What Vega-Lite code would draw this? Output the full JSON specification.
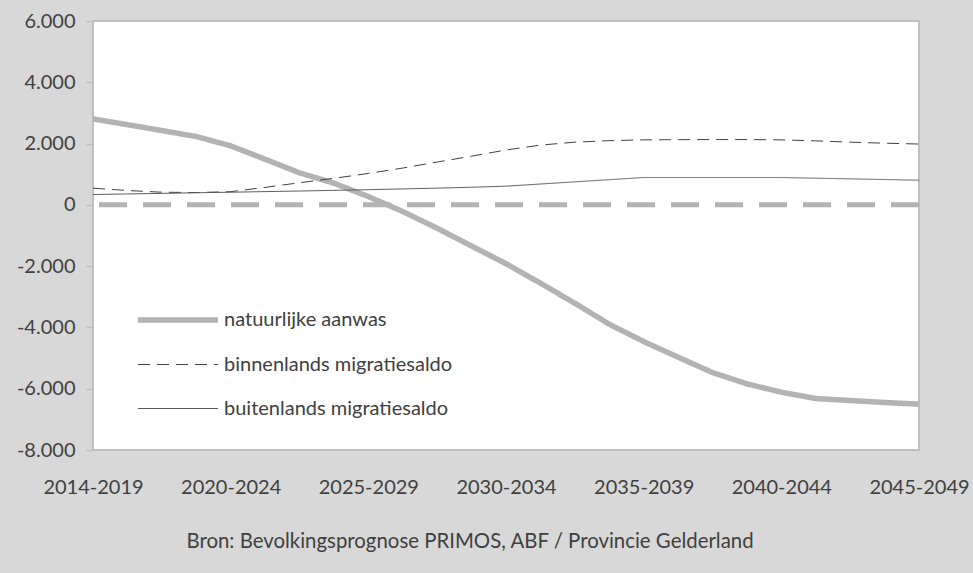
{
  "$schema": "https://vega.github.io/schema/vega-lite/v6.json",
  "width": 826,
  "height": 429,
  "autosize": {"type": "none"},
  "padding": {"left": 93, "top": 21, "right": 54, "bottom": 123},
  "background": "#d8d8d8",
  "config": {
    "font": "Lato",
    "view": {"stroke": "#bfbfbf", "strokeWidth": 2, "fill": "white"},
    "axis": {"labelFont": "Lato", "labelFontSize": 20, "labelColor": "#404040", "grid": false, "domain": false, "labelFlush": false, "labelOverlap": false}
  },
  "title": {
    "text": "Bron: Bevolkingsprognose PRIMOS, ABF / Provincie Gelderland",
    "orient": "bottom", "anchor": "middle", "frame": "group", "dx": -36, "offset": 35,
    "fontSize": 20.4, "font": "Lato", "fontWeight": "normal", "color": "#404040"
  },
  "layer": [
    {
      "data": {"values": [{"nul": 0}]},
      "mark": {"type": "rule", "color": "#b3b3b3", "strokeWidth": 5, "strokeDash": [28, 16]},
      "encoding": {"y": {"field": "nul", "type": "quantitative"}}
    },
    {
      "data": {"values": [
        {"i": 0, "serie": "natuurlijke aanwas", "v": 2806},
        {"i": 1, "serie": "natuurlijke aanwas", "v": 2617},
        {"i": 2, "serie": "natuurlijke aanwas", "v": 2425},
        {"i": 3, "serie": "natuurlijke aanwas", "v": 2230},
        {"i": 4, "serie": "natuurlijke aanwas", "v": 1925},
        {"i": 5, "serie": "natuurlijke aanwas", "v": 1490},
        {"i": 6, "serie": "natuurlijke aanwas", "v": 1044},
        {"i": 7, "serie": "natuurlijke aanwas", "v": 708},
        {"i": 8, "serie": "natuurlijke aanwas", "v": 271},
        {"i": 9, "serie": "natuurlijke aanwas", "v": -218},
        {"i": 10, "serie": "natuurlijke aanwas", "v": -762},
        {"i": 11, "serie": "natuurlijke aanwas", "v": -1344},
        {"i": 12, "serie": "natuurlijke aanwas", "v": -1920},
        {"i": 13, "serie": "natuurlijke aanwas", "v": -2556},
        {"i": 14, "serie": "natuurlijke aanwas", "v": -3209},
        {"i": 15, "serie": "natuurlijke aanwas", "v": -3895},
        {"i": 16, "serie": "natuurlijke aanwas", "v": -4460},
        {"i": 17, "serie": "natuurlijke aanwas", "v": -4972},
        {"i": 18, "serie": "natuurlijke aanwas", "v": -5472},
        {"i": 19, "serie": "natuurlijke aanwas", "v": -5841},
        {"i": 20, "serie": "natuurlijke aanwas", "v": -6113},
        {"i": 21, "serie": "natuurlijke aanwas", "v": -6320},
        {"i": 22, "serie": "natuurlijke aanwas", "v": -6385},
        {"i": 23, "serie": "natuurlijke aanwas", "v": -6450},
        {"i": 24, "serie": "natuurlijke aanwas", "v": -6504},
        {"i": 0, "serie": "binnenlands migratiesaldo", "v": 544},
        {"i": 1, "serie": "binnenlands migratiesaldo", "v": 468},
        {"i": 2, "serie": "binnenlands migratiesaldo", "v": 413},
        {"i": 3, "serie": "binnenlands migratiesaldo", "v": 402},
        {"i": 4, "serie": "binnenlands migratiesaldo", "v": 430},
        {"i": 5, "serie": "binnenlands migratiesaldo", "v": 570},
        {"i": 6, "serie": "binnenlands migratiesaldo", "v": 721},
        {"i": 7, "serie": "binnenlands migratiesaldo", "v": 866},
        {"i": 8, "serie": "binnenlands migratiesaldo", "v": 1025},
        {"i": 9, "serie": "binnenlands migratiesaldo", "v": 1201},
        {"i": 10, "serie": "binnenlands migratiesaldo", "v": 1398},
        {"i": 11, "serie": "binnenlands migratiesaldo", "v": 1589},
        {"i": 12, "serie": "binnenlands migratiesaldo", "v": 1790},
        {"i": 13, "serie": "binnenlands migratiesaldo", "v": 1950},
        {"i": 14, "serie": "binnenlands migratiesaldo", "v": 2046},
        {"i": 15, "serie": "binnenlands migratiesaldo", "v": 2095},
        {"i": 16, "serie": "binnenlands migratiesaldo", "v": 2121},
        {"i": 17, "serie": "binnenlands migratiesaldo", "v": 2128},
        {"i": 18, "serie": "binnenlands migratiesaldo", "v": 2131},
        {"i": 19, "serie": "binnenlands migratiesaldo", "v": 2131},
        {"i": 20, "serie": "binnenlands migratiesaldo", "v": 2121},
        {"i": 21, "serie": "binnenlands migratiesaldo", "v": 2089},
        {"i": 22, "serie": "binnenlands migratiesaldo", "v": 2046},
        {"i": 23, "serie": "binnenlands migratiesaldo", "v": 2013},
        {"i": 24, "serie": "binnenlands migratiesaldo", "v": 1984},
        {"i": 0, "serie": "buitenlands migratiesaldo", "v": 337},
        {"i": 1, "serie": "buitenlands migratiesaldo", "v": 356},
        {"i": 2, "serie": "buitenlands migratiesaldo", "v": 375},
        {"i": 3, "serie": "buitenlands migratiesaldo", "v": 394},
        {"i": 4, "serie": "buitenlands migratiesaldo", "v": 413},
        {"i": 5, "serie": "buitenlands migratiesaldo", "v": 432},
        {"i": 6, "serie": "buitenlands migratiesaldo", "v": 452},
        {"i": 7, "serie": "buitenlands migratiesaldo", "v": 473},
        {"i": 8, "serie": "buitenlands migratiesaldo", "v": 495},
        {"i": 9, "serie": "buitenlands migratiesaldo", "v": 520},
        {"i": 10, "serie": "buitenlands migratiesaldo", "v": 545},
        {"i": 11, "serie": "buitenlands migratiesaldo", "v": 575},
        {"i": 12, "serie": "buitenlands migratiesaldo", "v": 610},
        {"i": 13, "serie": "buitenlands migratiesaldo", "v": 680},
        {"i": 14, "serie": "buitenlands migratiesaldo", "v": 751},
        {"i": 15, "serie": "buitenlands migratiesaldo", "v": 821},
        {"i": 16, "serie": "buitenlands migratiesaldo", "v": 892},
        {"i": 17, "serie": "buitenlands migratiesaldo", "v": 892},
        {"i": 18, "serie": "buitenlands migratiesaldo", "v": 892},
        {"i": 19, "serie": "buitenlands migratiesaldo", "v": 892},
        {"i": 20, "serie": "buitenlands migratiesaldo", "v": 892},
        {"i": 21, "serie": "buitenlands migratiesaldo", "v": 870},
        {"i": 22, "serie": "buitenlands migratiesaldo", "v": 848},
        {"i": 23, "serie": "buitenlands migratiesaldo", "v": 826},
        {"i": 24, "serie": "buitenlands migratiesaldo", "v": 805}
      ]},
      "mark": {"type": "line"},
      "encoding": {
        "x": {
          "field": "i", "type": "quantitative",
          "scale": {"domain": [0, 24], "nice": false, "zero": false},
          "axis": {
            "values": [0, 4, 8, 12, 16, 20, 24],
            "labelExpr": "['2014-2019','2020-2024','2025-2029','2030-2034','2035-2039','2040-2044','2045-2049'][datum.value/4]",
            "title": null, "ticks": false, "tickSize": 0, "labelPadding": 27
          }
        },
        "y": {
          "field": "v", "type": "quantitative",
          "scale": {"domain": [-8000, 6000], "nice": false},
          "axis": {
            "values": [-8000, -6000, -4000, -2000, 0, 2000, 4000, 6000],
            "labelExpr": "replace(replace(format(datum.value, ',.0f'), ',', '.'), '−', '-')",
            "title": null, "tickSize": 7, "tickColor": "#bfbfbf", "tickWidth": 1.5, "labelPadding": 11
          }
        },
        "color": {
          "field": "serie", "type": "nominal",
          "scale": {
            "domain": ["natuurlijke aanwas", "binnenlands migratiesaldo", "buitenlands migratiesaldo"],
            "range": ["#b3b3b3", "#404040", "#5a5a5a"]
          },
          "legend": {
            "title": null, "orient": "none", "legendX": 44, "legendY": 276,
            "symbolType": "M-2,0H2", "symbolSize": 1600, "symbolOffset": 18,
            "labelOffset": 23, "labelFont": "Lato", "labelFontSize": 20, "labelColor": "#404040",
            "rowPadding": 13, "padding": 0, "labelLimit": 400
          }
        },
        "strokeWidth": {
          "field": "serie", "type": "nominal",
          "scale": {
            "type": "ordinal",
            "domain": ["natuurlijke aanwas", "binnenlands migratiesaldo", "buitenlands migratiesaldo"],
            "range": [5.5, 1, 1]
          }
        },
        "strokeDash": {
          "field": "serie", "type": "nominal",
          "scale": {
            "domain": ["natuurlijke aanwas", "binnenlands migratiesaldo", "buitenlands migratiesaldo"],
            "range": [[1, 0], [12, 7], [1, 0]]
          }
        },
        "order": {"field": "i", "type": "quantitative"}
      }
    }
  ]
}
